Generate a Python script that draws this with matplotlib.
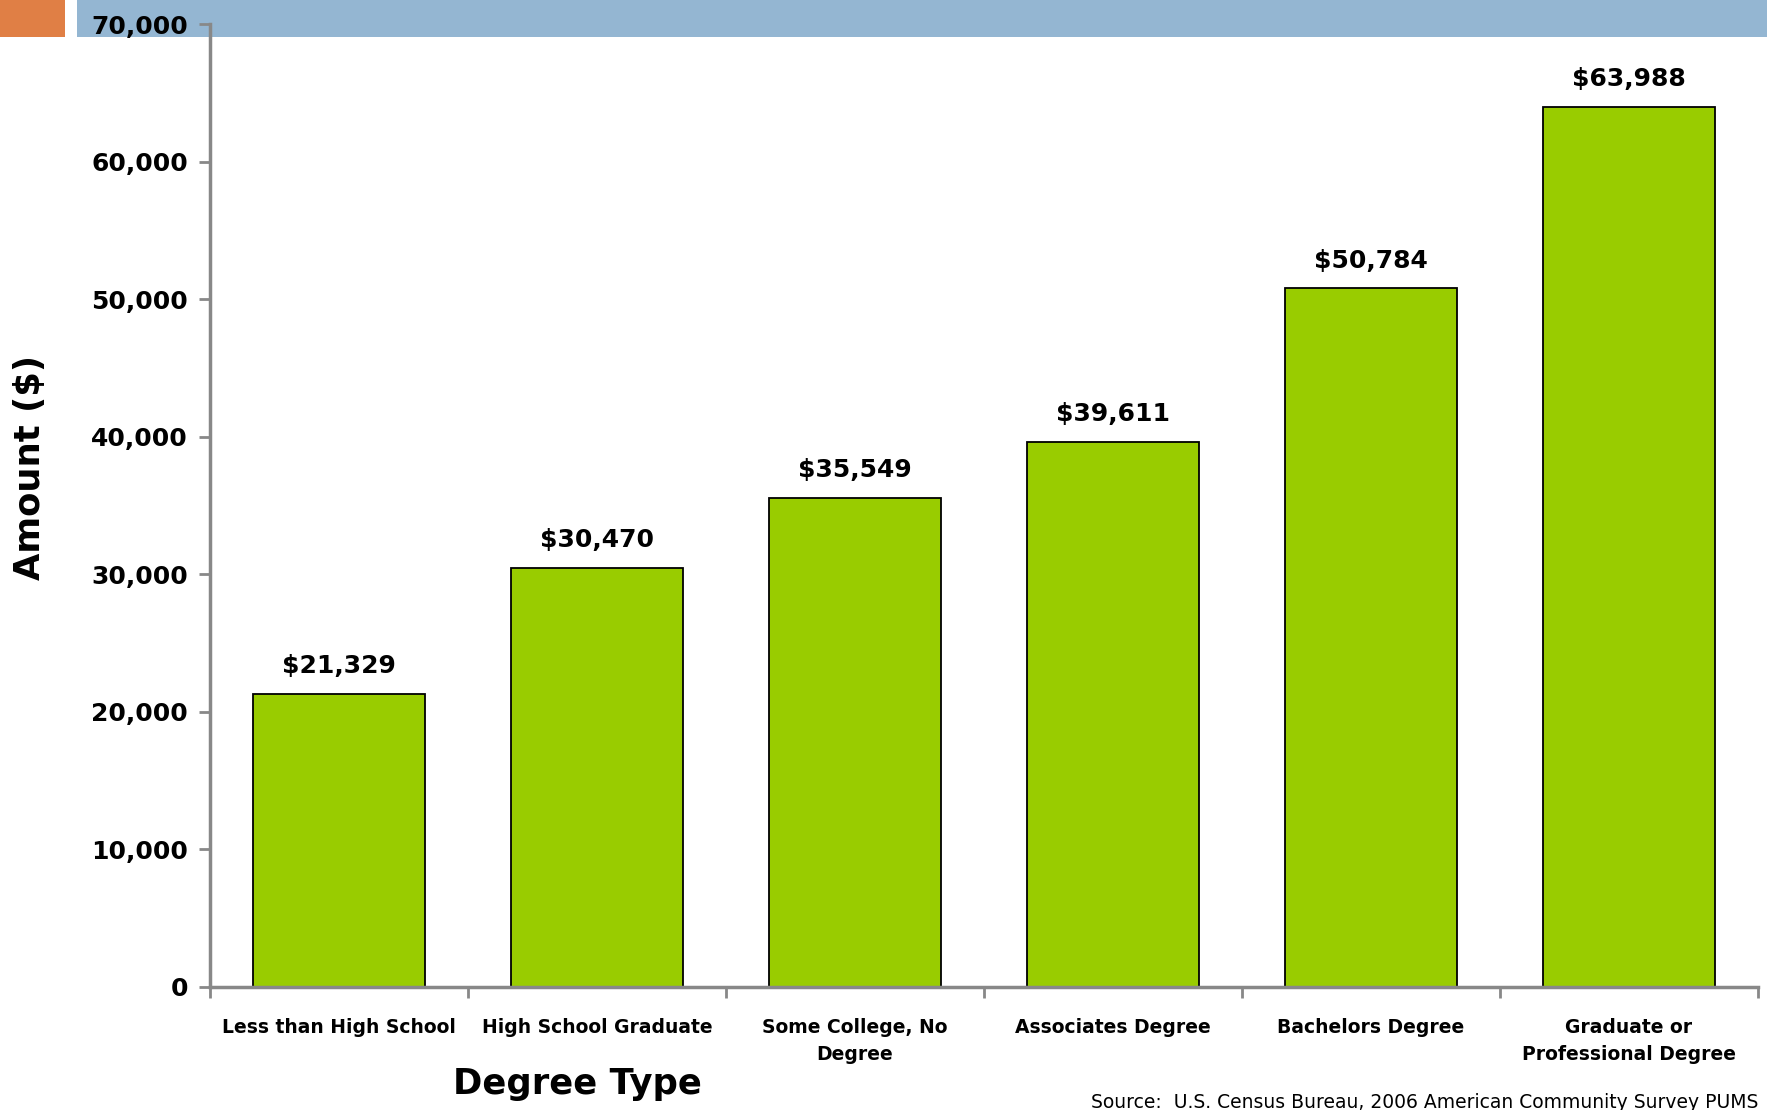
import numpy as np
import matplotlib
matplotlib.use('Agg')
import matplotlib.pyplot as plt
from matplotlib.patches import Rectangle
from matplotlib.ticker import FuncFormatter

categories = ['Less than High School', 'High School Graduate', 'Some College, No\nDegree',
              'Associates Degree', 'Bachelors Degree', 'Graduate or\nProfessional Degree']
amounts = [21329, 30470, 35549, 39611, 50784, 63988]
yticks = [0, 10000, 20000, 30000, 40000, 50000, 60000, 70000]

plt.rcParams['font.family'] = ['DejaVu Sans']

fig = plt.figure(figsize=(17.67, 11.10), dpi=100)

# header strips, drawn on a background axes so the axes sit on top
bg = fig.add_axes([0, 0, 1, 1], zorder=-1)
bg.set_xlim(0, 1767)
bg.set_ylim(1110, 0)
bg.axis('off')
bg.add_patch(Rectangle((0, 0), 65, 37, facecolor='#E07F45', edgecolor='none'))
bg.add_patch(Rectangle((77, 0), 1767 - 77, 37, facecolor='#94B6D2', edgecolor='none'))

ax = fig.add_axes([210/1767, 1 - 987/1110, (1758 - 210)/1767, (987 - 24)/1110])
ax.patch.set_facecolor('none')

x = np.arange(len(categories))
ax.bar(x, amounts, width=0.67, color='#99CC00', edgecolor='black', linewidth=1.3, zorder=2)

for xi, v in zip(x, amounts):
    ax.annotate('${:,}'.format(v), (xi, v), xytext=(0, 20), textcoords='offset points',
                ha='center', va='center', fontsize=18, fontweight='bold')

ax.set_xlim(-0.5, len(categories) - 0.5)
ax.set_ylim(0, 70000)
ax.set_yticks(yticks)
ax.yaxis.set_major_formatter(FuncFormatter(lambda v, p: '{:,}'.format(int(v))))

ax.set_xticks(x)
ax.set_xticklabels(categories, fontsize=13.5, fontweight='bold', linespacing=1.55)
ax.set_xticks(np.arange(len(categories) + 1) - 0.5, minor=True)
ax.tick_params(axis='x', which='major', length=0, pad=22)
ax.tick_params(axis='x', which='minor', length=8, width=2, color='#888888', direction='out')
ax.tick_params(axis='y', length=8, width=2, color='#888888', direction='out', pad=8, labelsize=18)
for lab in ax.get_yticklabels():
    lab.set_fontweight('bold')

for s in ['top', 'right']:
    ax.spines[s].set_visible(False)
for s in ['left', 'bottom']:
    ax.spines[s].set_color('#888888')
    ax.spines[s].set_linewidth(2.5)

fig.text(30/1767, 1 - 468/1110, 'Amount ($)', rotation=90, ha='center', va='center',
         fontsize=25.5, fontweight='bold')
fig.text(577/1767, 1 - 1084/1110, 'Degree Type', ha='center', va='center',
         fontsize=25.5, fontweight='bold')
fig.text(1758/1767, 1 - 1102/1110, 'Source:  U.S. Census Bureau, 2006 American Community Survey PUMS',
         ha='right', va='center', fontsize=13.5)

fig.savefig('out.png', dpi=100)
